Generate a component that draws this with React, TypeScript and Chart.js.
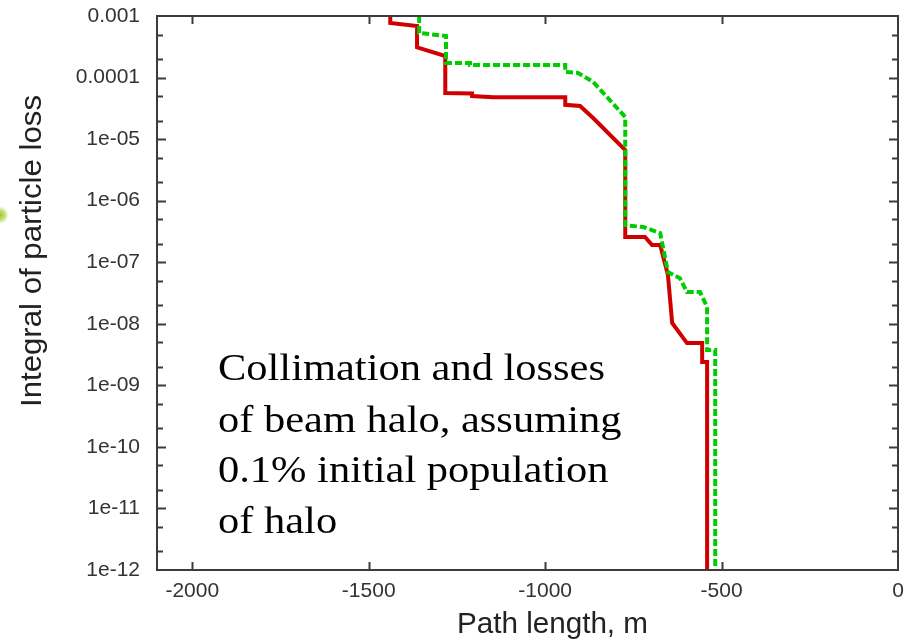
import React, { useEffect, useRef } from 'react';
import { Chart, registerables } from 'chart.js';

Chart.register(...registerables);

// ---- data ----
const redPathX = [-1439, -1439, -1363, -1363, -1283, -1283, -1207, -1207, -1147, -943, -943, -901, -864, -773, -773, -717, -697, -674, -652, -640, -598, -555, -555, -541, -541];
const redPathY = [1e-3, 7.7e-4, 6.9e-4, 3.1e-4, 2.24e-4, 5.6e-5, 5.5e-5, 5.0e-5, 4.8e-5, 4.8e-5, 3.6e-5, 3.45e-5, 2.2e-5, 6.65e-6, 2.57e-7, 2.57e-7, 1.9e-7, 1.9e-7, 6.2e-8, 1.03e-8, 4.85e-9, 4.85e-9, 2.39e-9, 2.39e-9, 1e-12];

const greenPathX = [-1357, -1357, -1281, -1281, -1213, -1213, -943, -943, -907, -864, -773, -773, -722, -674, -652, -618, -598, -561, -541, -541, -518, -518];
const greenPathY = [1e-3, 5.3e-4, 4.73e-4, 1.72e-4, 1.72e-4, 1.6e-4, 1.6e-4, 1.23e-4, 1.19e-4, 8.5e-5, 2.29e-5, 4.0e-7, 3.73e-7, 2.98e-7, 6.9e-8, 5.5e-8, 3.27e-8, 3.27e-8, 1.87e-8, 3.74e-9, 3.74e-9, 1e-12];

const xTickValues = [-2000, -1500, -1000, -500, 0];
const xTickLabels = ['-2000', '-1500', '-1000', '-500', '0'];
const yDecades = [1e-12, 1e-11, 1e-10, 1e-9, 1e-8, 1e-7, 1e-6, 1e-5, 1e-4, 1e-3];
const yDecadeLabels = ['1e-12', '1e-11', '1e-10', '1e-09', '1e-08', '1e-07', '1e-06', '1e-05', '0.0001', '0.001'];
const yMinorMultipliers = [2, 5];

const xTitle = 'Path length, m';
const yTitle = 'Integral of particle loss';
const noteLines = ['Collimation and losses', 'of beam halo, assuming', '0.1% initial population', 'of halo'];

const X_MIN = -2100;
const X_MAX = 0;
const Y_MIN = 1e-12;
const Y_MAX = 1e-3;

function toPoints(xs: number[], ys: number[]) {
  return xs.map((x, i) => ({ x, y: ys[i] }));
}

function isDecade(v: number) {
  return yDecades.some((d) => Math.abs(v / d - 1) < 1e-6);
}

function fitText(ctx: CanvasRenderingContext2D, text: string, x: number, y: number, width: number) {
  const nat = ctx.measureText(text).width;
  ctx.save();
  ctx.translate(x, y);
  ctx.scale(width / nat, 1);
  ctx.fillText(text, 0, 0);
  ctx.restore();
}

const decorPlugin = {
  id: 'decor',
  afterDatasetsDraw(chart: any) {
    const { ctx, chartArea: a, scales } = chart;
    const xs = scales.x;
    const ys = scales.y;
    ctx.save();
    ctx.strokeStyle = '#3c3c3c';
    ctx.lineWidth = 2;
    ctx.strokeRect(a.left, a.top, a.right - a.left, a.bottom - a.top);
    ctx.beginPath();
    for (const v of xTickValues) {
      const px = Math.round(xs.getPixelForValue(v)) + 0.5;
      if (px <= a.left + 2 || px >= a.right - 2) continue;
      ctx.moveTo(px, a.bottom);
      ctx.lineTo(px, a.bottom - 8);
      ctx.moveTo(px, a.top);
      ctx.lineTo(px, a.top + 8);
    }
    for (const d of yDecades) {
      const vals = [d, ...yMinorMultipliers.map((m) => d * m)];
      for (const v of vals) {
        if (v > Y_MAX * 1.0001 || v < Y_MIN) continue;
        const py = Math.round(ys.getPixelForValue(v)) + 0.5;
        if (py <= a.top + 2 || py >= a.bottom - 2) continue;
        const len = isDecade(v) ? 9 : 6;
        ctx.moveTo(a.left, py);
        ctx.lineTo(a.left + len, py);
        ctx.moveTo(a.right, py);
        ctx.lineTo(a.right - len, py);
      }
    }
    ctx.stroke();
    ctx.restore();
  },
  afterDraw(chart: any) {
    const ctx: CanvasRenderingContext2D = chart.ctx;
    ctx.save();
    // axis titles
    ctx.fillStyle = '#222';
    ctx.font = '29px "Liberation Sans", Arial, sans-serif';
    ctx.textBaseline = 'alphabetic';
    ctx.textAlign = 'left';
    fitText(ctx, xTitle, 457, 633, 191);
    ctx.save();
    ctx.translate(41, 407);
    ctx.rotate(-Math.PI / 2);
    fitText(ctx, yTitle, 0, 0, 312);
    ctx.restore();

    // annotation
    ctx.fillStyle = '#000';
    ctx.font = '38px "Liberation Serif", "Times New Roman", serif';
    const nat = ctx.measureText(noteLines[0]).width;
    const sx = 387 / nat;
    const baselines = [380, 432, 482, 533];
    noteLines.forEach((line, i) => {
      ctx.save();
      ctx.translate(218, baselines[i]);
      ctx.scale(sx, 1);
      ctx.fillText(line, 0, 0);
      ctx.restore();
    });

    // small green blob at left edge (slide remnant)
    const g = ctx.createRadialGradient(0, 215, 0, 0, 215, 9);
    g.addColorStop(0, 'rgba(150,195,20,0.95)');
    g.addColorStop(0.6, 'rgba(170,205,60,0.6)');
    g.addColorStop(1, 'rgba(200,220,120,0)');
    ctx.fillStyle = g;
    ctx.beginPath();
    ctx.ellipse(0, 215, 8, 10, 0, 0, Math.PI * 2);
    ctx.fill();
    ctx.restore();
  },
};

export default function App() {
  const ref = useRef<HTMLCanvasElement | null>(null);
  useEffect(() => {
    if (!ref.current) return;
    const chart = new Chart(ref.current, {
      type: 'line',
      data: {
        datasets: [
          {
            label: 'halo (dashed)',
            data: toPoints(greenPathX, greenPathY),
            borderColor: 'rgb(0,204,0)',
            borderWidth: 4,
            borderDash: [7, 3],
            borderCapStyle: 'butt',
            pointRadius: 0,
            tension: 0,
            fill: false,
          },
          {
            label: 'halo (solid)',
            data: toPoints(redPathX, redPathY),
            borderColor: 'rgb(208,0,0)',
            borderWidth: 4,
            pointRadius: 0,
            tension: 0,
            fill: false,
          },
        ],
      },
      options: {
        responsive: false,
        animation: false,
        events: [],
        layout: { padding: { top: 16, right: 19, left: 0, bottom: 0 } },
        plugins: {
          legend: { display: false },
          tooltip: { enabled: false },
          title: { display: false },
        },
        scales: {
          x: {
            type: 'linear',
            min: X_MIN,
            max: X_MAX,
            border: { display: false },
            grid: { display: false, drawTicks: false },
            afterBuildTicks: (s: any) => {
              s.ticks = xTickValues.map((v) => ({ value: v }));
            },
            afterFit: (s: any) => {
              s.height = 70;
              s.paddingLeft = 0;
              s.paddingRight = 0;
            },
            ticks: {
              autoSkip: false,
              maxRotation: 0,
              padding: 9,
              color: '#333',
              font: { family: '"Liberation Sans", Arial, sans-serif', size: 21 },
              callback: (v: any) => {
                const i = xTickValues.indexOf(Number(v));
                return i >= 0 ? xTickLabels[i] : '';
              },
            },
          },
          y: {
            type: 'logarithmic',
            min: Y_MIN,
            max: Y_MAX,
            border: { display: false },
            grid: { display: false, drawTicks: false },
            afterBuildTicks: (s: any) => {
              const t: any[] = [];
              yDecades.forEach((d) => {
                t.push({ value: d, major: true });
                if (d < Y_MAX) yMinorMultipliers.forEach((m) => t.push({ value: d * m }));
              });
              s.ticks = t;
            },
            afterFit: (s: any) => {
              s.width = 157;
              s.paddingTop = 0;
              s.paddingBottom = 0;
            },
            ticks: {
              autoSkip: false,
              padding: 17,
              color: '#333',
              font: { family: '"Liberation Sans", Arial, sans-serif', size: 21 },
              callback: (v: any) => {
                const i = yDecades.findIndex((d) => Math.abs(Number(v) / d - 1) < 1e-6);
                return i >= 0 ? yDecadeLabels[i] : '';
              },
            },
          },
        },
      },
      plugins: [decorPlugin],
    } as any);
    return () => chart.destroy();
  }, []);
  return (
    <div style={{ position: 'fixed', left: 0, top: 0, width: 917, height: 640, background: '#fff' }}>
      <canvas ref={ref} width={917} height={640} style={{ display: 'block' }} />
    </div>
  );
}
